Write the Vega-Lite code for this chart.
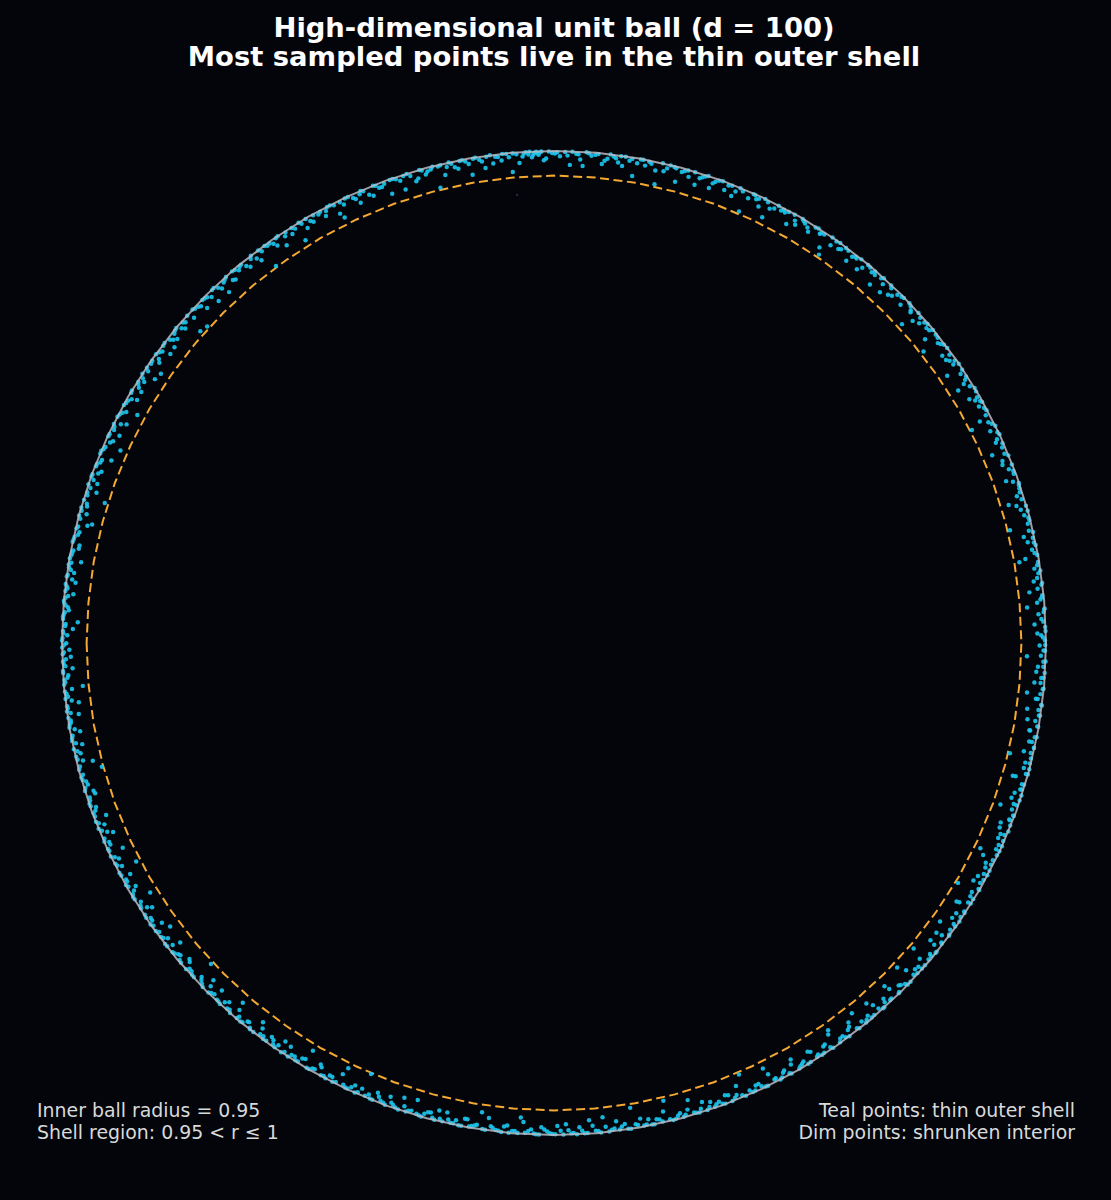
{
"$schema": "https://vega.github.io/schema/vega-lite/v6.json",
"width": 984,
"height": 984,
"autosize": "none",
"padding": {"left": 62, "top": 151, "right": 65, "bottom": 65},
"background": "#03050b",
"config": {"view": {"stroke": null}},
"title": {"text": ["High-dimensional unit ball (d = 100)", "Most sampled points live in the thin outer shell"], "font": "DejaVu Sans", "fontSize": 27.4, "fontWeight": "bold", "color": "#ffffff", "anchor": "middle", "lineHeight": 29, "offset": 76},
"projection": {"type": "azimuthalEquidistant", "rotate": [90, -90, 0]},
"layer": [
{
"data": {"values": {"type": "FeatureCollection", "features": [
{"type": "Feature", "properties": {"ring": "inner ball r = 0.95"}, "geometry": {"type": "LineString", "coordinates": [[-180,4.5],[-170,4.5],[-160,4.5],[-150,4.5],[-140,4.5],[-130,4.5],[-120,4.5],[-110,4.5],[-100,4.5],[-90,4.5],[-80,4.5],[-70,4.5],[-60,4.5],[-50,4.5],[-40,4.5],[-30,4.5],[-20,4.5],[-10,4.5],[0,4.5],[10,4.5],[20,4.5],[30,4.5],[40,4.5],[50,4.5],[60,4.5],[70,4.5],[80,4.5],[90,4.5],[100,4.5],[110,4.5],[120,4.5],[130,4.5],[140,4.5],[150,4.5],[160,4.5],[170,4.5],[180,4.5]]}}
]}, "format": {"type": "json", "property": "features"}},
"mark": {"type": "geoshape", "filled": false, "stroke": "#f5a832", "strokeWidth": 2, "strokeDash": [9, 4.5]}
},
{
"data": {"values": [
{"angle":0.3,"lat":0.18},{"angle":0.9,"lat":0.87},{"angle":1.4,"lat":0.06},{"angle":2.2,"lat":2.03},{"angle":2.5,"lat":0.41},{"angle":3.4,"lat":1.22},{"angle":3.9,"lat":0.14},{"angle":4.3,"lat":3.21},{"angle":5.1,"lat":0.66},{"angle":5.6,"lat":0.26},{"angle":6.4,"lat":0.99},{"angle":7.0,"lat":0.03},{"angle":7.3,"lat":1.53},{"angle":8.2,"lat":0.47},{"angle":8.8,"lat":1.08},{"angle":9.5,"lat":0.23},
{"angle":10.1,"lat":2.42},{"angle":10.6,"lat":0.57},{"angle":11.5,"lat":0.09},{"angle":12.0,"lat":1.4},{"angle":12.4,"lat":0.33},{"angle":13.3,"lat":0.74},{"angle":13.9,"lat":4.07},{"angle":14.5,"lat":0.17},{"angle":15.2,"lat":0.86},{"angle":15.6,"lat":0.05},{"angle":16.5,"lat":1.77},{"angle":17.1,"lat":0.51},{"angle":17.6,"lat":1.17},{"angle":18.4,"lat":0.29},{"angle":19.0,"lat":0.08},{"angle":19.7,"lat":2.16},
{"angle":20.2,"lat":0.39},{"angle":20.9,"lat":0.93},{"angle":21.3,"lat":0.12},{"angle":22.1,"lat":1.46},{"angle":22.8,"lat":0.62},{"angle":23.2,"lat":2.79},{"angle":24.0,"lat":0.21},{"angle":24.7,"lat":0.8},{"angle":25.1,"lat":0.02},{"angle":25.9,"lat":1.28},{"angle":26.6,"lat":0.44},{"angle":27.0,"lat":4.2},{"angle":27.8,"lat":0.71},{"angle":28.3,"lat":0.15},{"angle":29.1,"lat":1.04},{"angle":29.6,"lat":0.35},
{"angle":30.4,"lat":1.91},{"angle":30.8,"lat":0.11},{"angle":31.7,"lat":0.59},{"angle":32.3,"lat":1.32},{"angle":32.9,"lat":0.24},{"angle":33.5,"lat":0.81},{"angle":34.2,"lat":3.03},{"angle":34.6,"lat":0.06},{"angle":35.5,"lat":1.11},{"angle":36.1,"lat":0.48},{"angle":36.5,"lat":1.64},{"angle":37.4,"lat":0.2},{"angle":38.0,"lat":0.9},{"angle":38.5,"lat":0.32},{"angle":39.3,"lat":2.28},{"angle":39.8,"lat":0.65},
{"angle":40.5,"lat":0.14},{"angle":41.2,"lat":1.22},{"angle":41.6,"lat":0.42},{"angle":42.5,"lat":3.66},{"angle":43.0,"lat":0.77},{"angle":43.7,"lat":0.05},{"angle":44.3,"lat":1.43},{"angle":44.9,"lat":0.27},{"angle":45.4,"lat":0.54},{"angle":46.2,"lat":1.73},{"angle":46.7,"lat":0.11},{"angle":47.5,"lat":0.96},{"angle":48.1,"lat":0.38},{"angle":48.6,"lat":2.6},{"angle":49.4,"lat":0.68},{"angle":49.9,"lat":0.18},
{"angle":50.6,"lat":1.16},{"angle":51.3,"lat":0.08},{"angle":51.8,"lat":0.5},{"angle":52.6,"lat":1.97},{"angle":53.1,"lat":0.3},{"angle":53.9,"lat":0.87},{"angle":54.4,"lat":0.03},{"angle":55.2,"lat":1.37},{"angle":55.7,"lat":4.0},{"angle":56.5,"lat":0.41},{"angle":57.0,"lat":0.72},{"angle":57.8,"lat":0.17},{"angle":58.3,"lat":1.56},{"angle":59.1,"lat":0.56},{"angle":59.6,"lat":0.09},
{"angle":60.3,"lat":1.05},{"angle":61.0,"lat":2.37},{"angle":61.4,"lat":0.21},{"angle":62.3,"lat":0.63},{"angle":62.8,"lat":0.05},{"angle":63.6,"lat":1.29},{"angle":64.1,"lat":0.36},{"angle":64.9,"lat":1.83},{"angle":65.5,"lat":0.78},{"angle":66.0,"lat":0.12},{"angle":66.8,"lat":4.1},{"angle":67.3,"lat":0.45},{"angle":68.1,"lat":0.99},{"angle":68.7,"lat":0.23},{"angle":69.4,"lat":1.49},{"angle":69.9,"lat":0.06},
{"angle":70.7,"lat":0.6},{"angle":71.2,"lat":2.09},{"angle":72.0,"lat":0.29},{"angle":72.6,"lat":0.92},{"angle":73.3,"lat":0.11},{"angle":73.9,"lat":1.25},{"angle":74.5,"lat":0.39},{"angle":75.3,"lat":2.75},{"angle":75.8,"lat":0.18},{"angle":76.6,"lat":0.75},{"angle":77.2,"lat":0.02},{"angle":77.9,"lat":1.61},{"angle":78.5,"lat":0.53},{"angle":79.2,"lat":1.1},{"angle":79.8,"lat":0.15},
{"angle":80.5,"lat":3.39},{"angle":81.1,"lat":0.69},{"angle":81.6,"lat":0.08},{"angle":82.4,"lat":1.34},{"angle":83.0,"lat":0.33},{"angle":83.7,"lat":0.86},{"angle":84.3,"lat":1.95},{"angle":84.8,"lat":0.2},{"angle":85.6,"lat":0.59},{"angle":86.2,"lat":0.03},{"angle":86.9,"lat":1.41},{"angle":87.4,"lat":0.42},{"angle":88.1,"lat":2.49},{"angle":88.7,"lat":0.14},{"angle":89.3,"lat":0.95},{"angle":89.9,"lat":0.47},
{"angle":90.6,"lat":0.09},{"angle":91.2,"lat":1.68},{"angle":91.8,"lat":0.66},{"angle":92.3,"lat":0.26},{"angle":92.6,"lat":1.07},{"angle":93.0,"lat":0.53},{"angle":93.3,"lat":0.06},{"angle":93.7,"lat":0.83},{"angle":94.4,"lat":0.32},{"angle":95.0,"lat":3.53},{"angle":95.6,"lat":0.12},{"angle":96.2,"lat":1.2},{"angle":96.9,"lat":0.41},{"angle":97.5,"lat":0.02},{"angle":98.2,"lat":2.21},{"angle":98.8,"lat":0.57},{"angle":99.5,"lat":0.18},
{"angle":100.1,"lat":1.01},{"angle":100.8,"lat":0.08},{"angle":101.4,"lat":1.52},{"angle":102.1,"lat":0.36},{"angle":102.7,"lat":0.74},{"angle":103.4,"lat":0.15},{"angle":104.0,"lat":4.15},{"angle":104.6,"lat":0.5},{"angle":105.3,"lat":1.14},{"angle":105.9,"lat":0.05},{"angle":106.6,"lat":1.86},{"angle":107.1,"lat":0.63},{"angle":107.9,"lat":0.24},{"angle":108.4,"lat":0.9},{"angle":109.2,"lat":0.11},{"angle":109.8,"lat":2.64},
{"angle":110.3,"lat":0.44},{"angle":111.0,"lat":0.78},{"angle":111.6,"lat":0.03},{"angle":112.4,"lat":1.31},{"angle":112.9,"lat":0.29},{"angle":113.7,"lat":2.04},{"angle":114.3,"lat":0.68},{"angle":114.8,"lat":0.12},{"angle":115.6,"lat":1.04},{"angle":116.2,"lat":3.27},{"angle":116.7,"lat":0.38},{"angle":117.5,"lat":0.08},{"angle":118.1,"lat":1.44},{"angle":118.8,"lat":0.56},{"angle":119.4,"lat":0.21},
{"angle":120.0,"lat":0.87},{"angle":120.7,"lat":1.71},{"angle":121.3,"lat":0.05},{"angle":122.0,"lat":0.62},{"angle":122.6,"lat":1.19},{"angle":123.2,"lat":0.27},{"angle":123.9,"lat":2.33},{"angle":124.5,"lat":0.14},{"angle":125.1,"lat":0.75},{"angle":125.8,"lat":0.39},{"angle":126.4,"lat":4.3},{"angle":127.0,"lat":0.09},{"angle":127.7,"lat":1.08},{"angle":128.3,"lat":0.48},{"angle":128.9,"lat":1.58},{"angle":129.6,"lat":0.17},
{"angle":130.2,"lat":0.71},{"angle":130.9,"lat":0.06},{"angle":131.5,"lat":1.35},{"angle":132.2,"lat":0.32},{"angle":132.8,"lat":2.52},{"angle":133.4,"lat":0.57},{"angle":134.1,"lat":0.11},{"angle":134.7,"lat":0.95},{"angle":135.4,"lat":0.23},{"angle":136.0,"lat":1.79},{"angle":136.6,"lat":0.45},{"angle":137.3,"lat":0.03},{"angle":137.9,"lat":1.26},{"angle":138.6,"lat":3.75},{"angle":139.2,"lat":0.3},{"angle":139.8,"lat":0.81},
{"angle":140.5,"lat":0.15},{"angle":141.1,"lat":1.47},{"angle":141.7,"lat":0.51},{"angle":142.4,"lat":0.08},{"angle":143.0,"lat":2.13},{"angle":143.6,"lat":0.35},{"angle":144.3,"lat":0.99},{"angle":144.9,"lat":0.18},{"angle":145.6,"lat":2.85},{"angle":146.2,"lat":0.65},{"angle":146.8,"lat":0.02},{"angle":147.5,"lat":1.13},{"angle":148.1,"lat":0.42},{"angle":148.7,"lat":1.65},{"angle":149.4,"lat":0.12},
{"angle":150.0,"lat":0.78},{"angle":150.7,"lat":0.26},{"angle":151.3,"lat":3.11},{"angle":151.9,"lat":0.54},{"angle":152.6,"lat":0.06},{"angle":153.2,"lat":1.23},{"angle":153.8,"lat":0.38},{"angle":154.5,"lat":1.94},{"angle":155.1,"lat":0.14},{"angle":155.7,"lat":0.9},{"angle":156.4,"lat":0.47},{"angle":157.0,"lat":0.03},{"angle":157.6,"lat":2.43},{"angle":158.3,"lat":0.69},{"angle":158.9,"lat":0.21},{"angle":159.6,"lat":1.05},
{"angle":160.2,"lat":0.09},{"angle":160.8,"lat":1.55},{"angle":161.5,"lat":0.59},{"angle":162.1,"lat":0.29},{"angle":162.7,"lat":3.93},{"angle":163.4,"lat":0.83},{"angle":164.0,"lat":0.05},{"angle":164.6,"lat":1.32},{"angle":165.3,"lat":0.41},{"angle":165.9,"lat":2.0},{"angle":166.5,"lat":0.17},{"angle":167.2,"lat":0.72},{"angle":167.8,"lat":0.11},{"angle":168.4,"lat":1.4},{"angle":169.1,"lat":0.48},{"angle":169.7,"lat":0.24},
{"angle":170.3,"lat":2.25},{"angle":170.8,"lat":0.08},{"angle":171.4,"lat":0.62},{"angle":172.0,"lat":0.18},{"angle":172.5,"lat":1.1},{"angle":173.1,"lat":0.03},{"angle":173.6,"lat":0.44},{"angle":174.2,"lat":1.62},{"angle":174.7,"lat":0.27},{"angle":175.3,"lat":0.11},{"angle":175.8,"lat":0.84},{"angle":176.4,"lat":0.35},{"angle":176.9,"lat":0.06},{"angle":177.5,"lat":2.81},{"angle":178.0,"lat":0.53},{"angle":178.6,"lat":0.15},{"angle":179.1,"lat":0.96},{"angle":179.7,"lat":0.02},
{"angle":180.2,"lat":0.41},{"angle":180.8,"lat":1.34},{"angle":181.3,"lat":0.12},{"angle":181.9,"lat":0.66},{"angle":182.4,"lat":0.23},{"angle":183.0,"lat":1.82},{"angle":183.5,"lat":0.05},{"angle":184.1,"lat":0.78},{"angle":184.6,"lat":0.3},{"angle":185.2,"lat":3.45},{"angle":185.7,"lat":0.09},{"angle":186.3,"lat":0.56},{"angle":186.8,"lat":1.16},{"angle":187.4,"lat":0.2},{"angle":188.0,"lat":0.03},{"angle":188.5,"lat":2.1},{"angle":189.1,"lat":0.47},{"angle":189.6,"lat":0.14},
{"angle":190.2,"lat":0.92},{"angle":190.9,"lat":0.33},{"angle":191.5,"lat":0.06},{"angle":192.1,"lat":1.74},{"angle":192.8,"lat":0.6},{"angle":193.4,"lat":0.17},{"angle":194.0,"lat":1.2},{"angle":194.6,"lat":0.39},{"angle":195.3,"lat":4.25},{"angle":195.9,"lat":0.11},{"angle":196.5,"lat":0.75},{"angle":197.2,"lat":0.26},{"angle":197.8,"lat":1.53},{"angle":198.4,"lat":0.5},{"angle":199.1,"lat":0.08},{"angle":199.7,"lat":1.02},
{"angle":200.3,"lat":0.21},{"angle":201.0,"lat":2.24},{"angle":201.6,"lat":0.45},{"angle":202.2,"lat":0.03},{"angle":202.9,"lat":1.29},{"angle":203.5,"lat":0.32},{"angle":204.1,"lat":0.87},{"angle":204.8,"lat":0.14},{"angle":205.4,"lat":2.67},{"angle":206.0,"lat":0.63},{"angle":206.7,"lat":0.18},{"angle":207.3,"lat":1.07},{"angle":207.9,"lat":0.06},{"angle":208.6,"lat":1.7},{"angle":209.2,"lat":0.54},{"angle":209.8,"lat":0.29},
{"angle":210.5,"lat":0.83},{"angle":211.1,"lat":0.09},{"angle":211.7,"lat":3.18},{"angle":212.4,"lat":0.42},{"angle":213.0,"lat":1.25},{"angle":213.6,"lat":0.15},{"angle":214.3,"lat":0.71},{"angle":214.9,"lat":0.02},{"angle":215.5,"lat":1.89},{"angle":216.2,"lat":0.51},{"angle":216.8,"lat":0.24},{"angle":217.4,"lat":1.11},{"angle":218.1,"lat":0.08},{"angle":218.7,"lat":2.39},{"angle":219.3,"lat":0.36},{"angle":219.9,"lat":0.93},
{"angle":220.6,"lat":0.12},{"angle":221.2,"lat":1.44},{"angle":221.8,"lat":0.59},{"angle":222.5,"lat":0.2},{"angle":223.1,"lat":4.05},{"angle":223.7,"lat":0.77},{"angle":224.4,"lat":0.05},{"angle":225.0,"lat":1.19},{"angle":225.6,"lat":0.38},{"angle":226.3,"lat":2.06},{"angle":226.9,"lat":0.17},{"angle":227.5,"lat":0.86},{"angle":228.2,"lat":0.3},{"angle":228.8,"lat":0.03},{"angle":229.4,"lat":1.59},{"angle":229.9,"lat":0.6},
{"angle":230.6,"lat":0.23},{"angle":231.2,"lat":1.01},{"angle":231.8,"lat":0.08},{"angle":232.5,"lat":2.55},{"angle":233.1,"lat":0.48},{"angle":233.7,"lat":0.14},{"angle":234.4,"lat":1.35},{"angle":235.0,"lat":0.41},{"angle":235.6,"lat":0.8},{"angle":236.3,"lat":0.02},{"angle":236.9,"lat":1.85},{"angle":237.5,"lat":0.66},{"angle":238.2,"lat":0.21},{"angle":238.8,"lat":1.14},{"angle":239.4,"lat":3.36},
{"angle":240.1,"lat":0.11},{"angle":240.7,"lat":0.57},{"angle":241.3,"lat":1.5},{"angle":242.0,"lat":0.29},{"angle":242.6,"lat":0.9},{"angle":243.2,"lat":0.06},{"angle":243.9,"lat":2.18},{"angle":244.5,"lat":0.45},{"angle":245.1,"lat":0.17},{"angle":245.8,"lat":1.28},{"angle":246.4,"lat":0.33},{"angle":247.0,"lat":4.35},{"angle":247.7,"lat":0.72},{"angle":248.3,"lat":0.09},{"angle":248.9,"lat":1.05},{"angle":249.6,"lat":0.26},
{"angle":250.2,"lat":1.77},{"angle":250.8,"lat":0.53},{"angle":251.5,"lat":0.03},{"angle":252.1,"lat":0.96},{"angle":252.7,"lat":0.39},{"angle":253.4,"lat":2.76},{"angle":254.0,"lat":0.15},{"angle":254.6,"lat":0.68},{"angle":255.3,"lat":1.22},{"angle":255.9,"lat":0.08},{"angle":256.5,"lat":0.5},{"angle":257.2,"lat":1.95},{"angle":257.8,"lat":0.23},{"angle":258.4,"lat":0.87},{"angle":259.1,"lat":0.05},{"angle":259.7,"lat":1.46},
{"angle":260.3,"lat":0.36},{"angle":260.9,"lat":0.75},{"angle":261.6,"lat":0.12},{"angle":262.2,"lat":2.3},{"angle":262.8,"lat":0.56},{"angle":263.5,"lat":0.2},{"angle":264.1,"lat":1.08},{"angle":264.7,"lat":0.02},{"angle":265.4,"lat":0.44},{"angle":266.0,"lat":3.0},{"angle":266.6,"lat":0.27},{"angle":267.3,"lat":0.93},{"angle":267.9,"lat":0.09},{"angle":268.5,"lat":1.38},{"angle":269.2,"lat":0.62},{"angle":269.8,"lat":0.17},
{"angle":270.4,"lat":1.65},{"angle":271.1,"lat":0.06},{"angle":271.7,"lat":0.83},{"angle":272.3,"lat":0.3},{"angle":273.0,"lat":1.28},{"angle":273.6,"lat":0.14},{"angle":274.2,"lat":2.48},{"angle":274.9,"lat":0.47},{"angle":275.5,"lat":0.03},{"angle":276.1,"lat":1.01},{"angle":276.8,"lat":0.35},{"angle":277.4,"lat":1.8},{"angle":278.0,"lat":0.69},{"angle":278.7,"lat":0.11},{"angle":279.3,"lat":3.83},{"angle":279.9,"lat":0.51},
{"angle":280.6,"lat":0.21},{"angle":281.2,"lat":1.17},{"angle":281.8,"lat":0.05},{"angle":282.5,"lat":0.74},{"angle":283.1,"lat":2.01},{"angle":283.7,"lat":0.32},{"angle":284.4,"lat":0.14},{"angle":285.0,"lat":0.95},{"angle":285.6,"lat":0.42},{"angle":286.3,"lat":2.88},{"angle":286.9,"lat":0.18},{"angle":287.5,"lat":0.65},{"angle":288.2,"lat":0.08},{"angle":288.8,"lat":1.32},{"angle":289.4,"lat":0.54},
{"angle":290.1,"lat":0.26},{"angle":290.7,"lat":1.56},{"angle":291.3,"lat":0.09},{"angle":292.0,"lat":0.84},{"angle":292.6,"lat":0.38},{"angle":293.2,"lat":4.12},{"angle":293.9,"lat":0.15},{"angle":294.5,"lat":1.05},{"angle":295.1,"lat":0.48},{"angle":295.8,"lat":0.02},{"angle":296.4,"lat":1.92},{"angle":297.0,"lat":0.66},{"angle":297.7,"lat":0.23},{"angle":298.3,"lat":1.2},{"angle":298.9,"lat":0.06},{"angle":299.6,"lat":2.36},
{"angle":300.2,"lat":0.41},{"angle":300.8,"lat":0.9},{"angle":301.5,"lat":0.12},{"angle":302.1,"lat":1.71},{"angle":302.7,"lat":0.57},{"angle":303.4,"lat":0.2},{"angle":304.0,"lat":1.43},{"angle":304.6,"lat":0.03},{"angle":305.3,"lat":3.23},{"angle":305.9,"lat":0.71},{"angle":306.5,"lat":0.29},{"angle":307.2,"lat":1.1},{"angle":307.8,"lat":2.12},{"angle":308.4,"lat":0.09},{"angle":309.1,"lat":0.8},{"angle":309.7,"lat":0.45},
{"angle":310.3,"lat":0.15},{"angle":310.9,"lat":2.73},{"angle":311.6,"lat":0.6},{"angle":312.2,"lat":0.06},{"angle":312.8,"lat":1.31},{"angle":313.5,"lat":0.36},{"angle":314.1,"lat":1.88},{"angle":314.7,"lat":0.21},{"angle":315.4,"lat":0.89},{"angle":316.0,"lat":0.05},{"angle":316.6,"lat":3.6},{"angle":317.3,"lat":0.51},{"angle":317.9,"lat":0.99},{"angle":318.5,"lat":0.14},{"angle":319.2,"lat":1.62},{"angle":319.8,"lat":0.3},
{"angle":320.4,"lat":0.72},{"angle":321.1,"lat":0.08},{"angle":321.7,"lat":2.25},{"angle":322.3,"lat":0.44},{"angle":323.0,"lat":1.16},{"angle":323.6,"lat":0.18},{"angle":324.2,"lat":2.93},{"angle":324.9,"lat":0.62},{"angle":325.5,"lat":0.02},{"angle":326.1,"lat":1.35},{"angle":326.8,"lat":0.33},{"angle":327.4,"lat":1.98},{"angle":328.0,"lat":0.11},{"angle":328.7,"lat":0.86},{"angle":329.3,"lat":4.05},{"angle":329.9,"lat":0.24},
{"angle":330.6,"lat":0.53},{"angle":331.2,"lat":1.5},{"angle":331.8,"lat":0.06},{"angle":332.5,"lat":1.04},{"angle":333.1,"lat":0.39},{"angle":333.7,"lat":2.43},{"angle":334.4,"lat":0.17},{"angle":335.0,"lat":0.75},{"angle":335.6,"lat":0.03},{"angle":336.3,"lat":1.26},{"angle":336.9,"lat":0.45},{"angle":337.5,"lat":1.76},{"angle":338.2,"lat":0.12},{"angle":338.8,"lat":0.68},{"angle":339.4,"lat":0.27},
{"angle":340.1,"lat":3.15},{"angle":340.7,"lat":0.9},{"angle":341.3,"lat":0.09},{"angle":342.0,"lat":1.4},{"angle":342.6,"lat":0.35},{"angle":343.2,"lat":0.59},{"angle":343.9,"lat":2.1},{"angle":344.5,"lat":0.05},{"angle":345.1,"lat":1.07},{"angle":345.8,"lat":0.23},{"angle":346.4,"lat":4.2},{"angle":347.0,"lat":0.5},{"angle":347.7,"lat":0.15},{"angle":348.3,"lat":1.23},{"angle":348.9,"lat":0.38},{"angle":349.6,"lat":1.58},
{"angle":350.2,"lat":0.11},{"angle":350.8,"lat":0.81},{"angle":351.5,"lat":0.3},{"angle":352.1,"lat":2.61},{"angle":352.7,"lat":0.02},{"angle":353.4,"lat":0.93},{"angle":354.0,"lat":0.54},{"angle":354.6,"lat":0.2},{"angle":355.3,"lat":1.83},{"angle":355.9,"lat":0.63},{"angle":356.5,"lat":0.08},{"angle":357.2,"lat":1.37},{"angle":357.8,"lat":0.42},{"angle":358.4,"lat":3.45},{"angle":359.1,"lat":0.18},{"angle":359.7,"lat":1.16},
{"angle":0.65,"lat":0.54},{"angle":1.12,"lat":1.56},{"angle":1.88,"lat":0.11},{"angle":2.83,"lat":0.74},{"angle":3.61,"lat":0.27},{"angle":4.02,"lat":0.03},{"angle":4.77,"lat":1.32},{"angle":5.35,"lat":0.38},{"angle":6.08,"lat":2.55},{"angle":6.81,"lat":0.2},{"angle":7.66,"lat":0.83},{"angle":8.47,"lat":0.06},{"angle":9.13,"lat":0.47},{"angle":9.84,"lat":3.6},
{"angle":10.32,"lat":0.14},{"angle":11.05,"lat":0.9},{"angle":11.84,"lat":0.32},{"angle":12.71,"lat":1.91},{"angle":13.05,"lat":0.05},{"angle":14.12,"lat":0.63},{"angle":14.83,"lat":0.24},{"angle":15.94,"lat":1.2},{"angle":16.21,"lat":0.09},{"angle":16.88,"lat":3.08},{"angle":17.93,"lat":0.44},{"angle":18.77,"lat":0.17},{"angle":19.36,"lat":1.01},
{"angle":20.55,"lat":0.29},{"angle":21.66,"lat":1.73},{"angle":22.44,"lat":0.08},{"angle":23.57,"lat":0.56},{"angle":24.38,"lat":1.26},{"angle":25.43,"lat":0.18},{"angle":26.21,"lat":0.03},{"angle":26.95,"lat":0.87},{"angle":27.49,"lat":2.19},{"angle":28.66,"lat":0.33},{"angle":29.38,"lat":0.12},{"angle":29.92,"lat":1.1},
{"angle":30.14,"lat":0.5},{"angle":31.22,"lat":0.02},{"angle":31.99,"lat":2.82},{"angle":32.62,"lat":0.71},{"angle":33.81,"lat":0.15},{"angle":34.89,"lat":0.95},{"angle":35.17,"lat":0.36},{"angle":35.83,"lat":1.55},{"angle":36.88,"lat":0.08},{"angle":37.71,"lat":0.6},{"angle":38.27,"lat":3.9},{"angle":38.93,"lat":0.23},{"angle":39.57,"lat":0.11},
{"angle":40.21,"lat":0.78},{"angle":40.88,"lat":0.41},{"angle":41.93,"lat":1.82},{"angle":42.16,"lat":0.05},{"angle":42.84,"lat":1.04},{"angle":43.36,"lat":0.26},{"angle":44.6,"lat":0.12},{"angle":45.77,"lat":1.37},{"angle":46.44,"lat":0.45},{"angle":47.11,"lat":2.4},{"angle":47.88,"lat":0.03},{"angle":48.92,"lat":0.68},{"angle":49.17,"lat":0.18},
{"angle":50.27,"lat":0.09},{"angle":50.98,"lat":2.0},{"angle":52.03,"lat":0.35},{"angle":52.33,"lat":0.75},{"angle":53.52,"lat":0.14},{"angle":54.18,"lat":1.14},{"angle":54.87,"lat":0.21},{"angle":55.51,"lat":0.02},{"angle":56.14,"lat":2.85},{"angle":56.91,"lat":0.53},{"angle":57.44,"lat":0.06},{"angle":58.62,"lat":0.96},{"angle":59.38,"lat":0.3},
{"angle":60.04,"lat":1.67},{"angle":60.66,"lat":0.12},{"angle":61.79,"lat":0.65},{"angle":62.05,"lat":0.26},{"angle":63.12,"lat":0.89},{"angle":63.94,"lat":3.3},{"angle":64.55,"lat":0.05},{"angle":65.21,"lat":0.51},{"angle":65.77,"lat":0.17},{"angle":66.42,"lat":1.23},{"angle":67.69,"lat":0.09},{"angle":68.38,"lat":2.04},{"angle":69.12,"lat":0.41},
{"angle":70.33,"lat":0.2},{"angle":70.95,"lat":1.05},{"angle":71.68,"lat":0.03},{"angle":72.31,"lat":0.59},{"angle":72.95,"lat":2.33},{"angle":74.13,"lat":0.15},{"angle":74.82,"lat":0.72},{"angle":75.55,"lat":0.32},{"angle":76.27,"lat":0.06},{"angle":76.93,"lat":1.4},{"angle":77.64,"lat":4.1},{"angle":78.8,"lat":0.24},{"angle":79.51,"lat":0.08},
{"angle":80.17,"lat":0.92},{"angle":80.81,"lat":0.29},{"angle":81.88,"lat":1.86},{"angle":82.13,"lat":0.11},{"angle":82.71,"lat":0.6},{"angle":83.39,"lat":0.02},{"angle":84.02,"lat":1.29},{"angle":85.15,"lat":0.39},{"angle":85.92,"lat":0.17},{"angle":86.57,"lat":2.58},{"angle":87.13,"lat":0.48},{"angle":87.86,"lat":0.08},{"angle":88.41,"lat":0.81},{"angle":89.64,"lat":0.21},
{"angle":90.22,"lat":0.35},{"angle":90.93,"lat":1.35},{"angle":91.47,"lat":0.06},{"angle":91.63,"lat":0.18},{"angle":91.95,"lat":0.42},{"angle":92.08,"lat":0.09},{"angle":92.44,"lat":0.62},{"angle":92.87,"lat":0.03},{"angle":93.52,"lat":0.29},{"angle":94.11,"lat":1.95},{"angle":94.83,"lat":0.14},{"angle":95.31,"lat":0.78},{"angle":96.05,"lat":0.05},{"angle":96.58,"lat":0.5},{"angle":97.22,"lat":1.59},{"angle":97.93,"lat":0.21},{"angle":98.51,"lat":0.93},{"angle":99.23,"lat":0.08},{"angle":99.86,"lat":3.08},
{"angle":100.44,"lat":0.45},{"angle":101.09,"lat":0.17},{"angle":101.77,"lat":1.11},{"angle":102.38,"lat":0.03},{"angle":103.07,"lat":2.1},{"angle":103.71,"lat":0.3},{"angle":104.33,"lat":0.09},{"angle":105.02,"lat":0.71},{"angle":105.64,"lat":0.23},{"angle":106.27,"lat":1.46},{"angle":107.46,"lat":0.06},{"angle":108.12,"lat":2.73},{"angle":108.83,"lat":0.39},{"angle":109.54,"lat":0.12},
{"angle":110.67,"lat":0.86},{"angle":111.31,"lat":0.2},{"angle":111.96,"lat":1.77},{"angle":113.18,"lat":0.03},{"angle":113.42,"lat":0.53},{"angle":114.05,"lat":1.05},{"angle":115.21,"lat":0.15},{"angle":115.93,"lat":0.36},{"angle":116.48,"lat":2.25},{"angle":117.14,"lat":0.08},{"angle":117.83,"lat":0.66},{"angle":118.47,"lat":0.24},{"angle":119.72,"lat":1.29},
{"angle":120.36,"lat":0.11},{"angle":121.05,"lat":0.47},{"angle":121.68,"lat":3.45},{"angle":122.31,"lat":0.18},{"angle":123.47,"lat":0.83},{"angle":124.21,"lat":0.05},{"angle":124.83,"lat":1.43},{"angle":125.46,"lat":0.29},{"angle":126.11,"lat":0.12},{"angle":126.72,"lat":0.6},{"angle":127.39,"lat":1.88},{"angle":128.05,"lat":0.02},{"angle":129.22,"lat":0.99},{"angle":129.88,"lat":0.3},
{"angle":130.55,"lat":0.21},{"angle":131.21,"lat":1.61},{"angle":131.86,"lat":0.08},{"angle":132.51,"lat":0.57},{"angle":133.13,"lat":1.16},{"angle":133.79,"lat":0.03},{"angle":134.43,"lat":2.37},{"angle":135.08,"lat":0.41},{"angle":135.72,"lat":0.15},{"angle":136.34,"lat":0.75},{"angle":137.04,"lat":0.27},{"angle":137.61,"lat":4.1},{"angle":138.27,"lat":0.09},{"angle":138.95,"lat":0.63},{"angle":139.53,"lat":1.35},
{"angle":140.18,"lat":0.05},{"angle":140.84,"lat":0.44},{"angle":141.46,"lat":0.98},{"angle":142.07,"lat":1.98},{"angle":142.73,"lat":0.18},{"angle":143.34,"lat":0.71},{"angle":144.02,"lat":0.06},{"angle":144.63,"lat":1.47},{"angle":145.27,"lat":0.32},{"angle":145.94,"lat":0.12},{"angle":146.53,"lat":2.48},{"angle":147.21,"lat":0.54},{"angle":147.83,"lat":0.2},{"angle":148.42,"lat":0.87},{"angle":149.11,"lat":0.03},{"angle":149.77,"lat":1.73},
{"angle":150.35,"lat":0.38},{"angle":151.04,"lat":0.09},{"angle":151.62,"lat":1.07},{"angle":152.25,"lat":0.24},{"angle":152.91,"lat":2.18},{"angle":153.55,"lat":0.08},{"angle":154.17,"lat":0.59},{"angle":154.81,"lat":0.17},{"angle":155.42,"lat":1.31},{"angle":156.06,"lat":3.23},{"angle":156.72,"lat":0.3},{"angle":157.33,"lat":0.05},{"angle":157.96,"lat":0.8},{"angle":158.61,"lat":0.21},{"angle":159.28,"lat":1.5},{"angle":159.91,"lat":0.11},
{"angle":160.51,"lat":0.66},{"angle":161.17,"lat":0.03},{"angle":161.82,"lat":1.92},{"angle":162.44,"lat":0.47},{"angle":163.06,"lat":0.14},{"angle":163.71,"lat":1.02},{"angle":164.35,"lat":0.26},{"angle":164.97,"lat":0.06},{"angle":165.62,"lat":2.78},{"angle":166.24,"lat":0.39},{"angle":166.87,"lat":0.87},{"angle":167.51,"lat":0.18},{"angle":168.13,"lat":0.02},{"angle":168.77,"lat":1.38},{"angle":169.42,"lat":0.33},
{"angle":170.06,"lat":0.09},{"angle":170.55,"lat":0.5},{"angle":171.12,"lat":0.21},{"angle":171.71,"lat":1.29},{"angle":172.24,"lat":0.05},{"angle":172.83,"lat":1.79},{"angle":173.37,"lat":0.3},{"angle":173.92,"lat":0.12},{"angle":174.48,"lat":0.72},{"angle":175.06,"lat":0.02},{"angle":175.57,"lat":0.41},{"angle":176.13,"lat":1.05},{"angle":176.66,"lat":0.17},{"angle":177.21,"lat":0.08},{"angle":177.77,"lat":0.6},{"angle":178.33,"lat":1.95},{"angle":178.88,"lat":0.24},{"angle":179.43,"lat":0.09},
{"angle":180.04,"lat":0.78},{"angle":180.52,"lat":0.05},{"angle":181.07,"lat":0.32},{"angle":181.64,"lat":1.58},{"angle":182.16,"lat":0.14},{"angle":182.71,"lat":0.53},{"angle":183.26,"lat":0.03},{"angle":183.79,"lat":0.96},{"angle":184.33,"lat":0.2},{"angle":184.88,"lat":0.09},{"angle":185.44,"lat":1.43},{"angle":185.98,"lat":0.36},{"angle":186.55,"lat":0.06},{"angle":187.11,"lat":2.4},{"angle":187.66,"lat":0.26},{"angle":188.23,"lat":0.68},{"angle":188.79,"lat":0.12},{"angle":189.37,"lat":0.42},{"angle":189.91,"lat":0.02},
{"angle":190.55,"lat":1.83},{"angle":191.18,"lat":0.15},{"angle":191.84,"lat":0.65},{"angle":192.47,"lat":0.05},{"angle":193.11,"lat":1.1},{"angle":193.77,"lat":0.29},{"angle":194.32,"lat":2.93},{"angle":194.95,"lat":0.11},{"angle":195.62,"lat":0.54},{"angle":196.21,"lat":0.21},{"angle":196.88,"lat":0.9},{"angle":197.51,"lat":0.03},{"angle":198.13,"lat":1.68},{"angle":198.76,"lat":0.38},{"angle":199.42,"lat":0.14},
{"angle":200.06,"lat":0.69},{"angle":200.71,"lat":0.24},{"angle":201.33,"lat":0.06},{"angle":201.97,"lat":1.32},{"angle":202.56,"lat":0.45},{"angle":203.21,"lat":2.25},{"angle":203.84,"lat":0.09},{"angle":204.44,"lat":0.86},{"angle":205.07,"lat":0.2},{"angle":205.73,"lat":0.02},{"angle":206.35,"lat":1.19},{"angle":207.02,"lat":0.36},{"angle":207.61,"lat":3.75},{"angle":208.26,"lat":0.15},{"angle":208.92,"lat":0.57},{"angle":209.51,"lat":0.08},
{"angle":210.16,"lat":1.49},{"angle":210.81,"lat":0.3},{"angle":211.43,"lat":0.11},{"angle":212.05,"lat":0.83},{"angle":212.72,"lat":0.21},{"angle":213.33,"lat":2.01},{"angle":213.97,"lat":0.05},{"angle":214.62,"lat":0.68},{"angle":215.21,"lat":0.33},{"angle":215.88,"lat":0.12},{"angle":216.46,"lat":2.7},{"angle":217.08,"lat":0.48},{"angle":217.75,"lat":0.03},{"angle":218.38,"lat":1.02},{"angle":219.04,"lat":0.18},{"angle":219.65,"lat":0.75},
{"angle":220.27,"lat":0.27},{"angle":220.93,"lat":1.74},{"angle":221.55,"lat":0.06},{"angle":222.17,"lat":0.54},{"angle":222.84,"lat":0.14},{"angle":223.46,"lat":1.2},{"angle":224.06,"lat":0.38},{"angle":224.71,"lat":2.33},{"angle":225.33,"lat":0.09},{"angle":225.97,"lat":0.63},{"angle":226.61,"lat":0.23},{"angle":227.22,"lat":0.02},{"angle":227.88,"lat":1.43},{"angle":228.51,"lat":0.45},{"angle":229.13,"lat":3.0},{"angle":229.77,"lat":0.17},
{"angle":230.36,"lat":0.08},{"angle":231.01,"lat":0.92},{"angle":231.67,"lat":0.3},{"angle":232.29,"lat":0.05},{"angle":232.91,"lat":1.61},{"angle":233.54,"lat":0.56},{"angle":234.12,"lat":0.2},{"angle":234.77,"lat":1.05},{"angle":235.36,"lat":0.12},{"angle":236.02,"lat":2.1},{"angle":236.63,"lat":0.39},{"angle":237.24,"lat":0.03},{"angle":237.91,"lat":0.74},{"angle":238.53,"lat":0.26},{"angle":239.16,"lat":1.35},{"angle":239.78,"lat":0.09},
{"angle":240.42,"lat":0.5},{"angle":241.04,"lat":1.88},{"angle":241.66,"lat":0.15},{"angle":242.31,"lat":0.06},{"angle":242.95,"lat":0.87},{"angle":243.57,"lat":0.32},{"angle":244.18,"lat":3.6},{"angle":244.83,"lat":0.18},{"angle":245.47,"lat":0.68},{"angle":246.08,"lat":0.05},{"angle":246.71,"lat":1.25},{"angle":247.34,"lat":0.24},{"angle":247.98,"lat":0.11},{"angle":248.62,"lat":1.65},{"angle":249.24,"lat":0.44},{"angle":249.88,"lat":0.03},
{"angle":250.51,"lat":0.81},{"angle":251.13,"lat":0.2},{"angle":251.79,"lat":2.43},{"angle":252.43,"lat":0.09},{"angle":253.04,"lat":0.57},{"angle":253.71,"lat":0.29},{"angle":254.32,"lat":0.02},{"angle":254.97,"lat":1.14},{"angle":255.61,"lat":0.36},{"angle":256.22,"lat":1.95},{"angle":256.86,"lat":0.14},{"angle":257.48,"lat":0.72},{"angle":258.13,"lat":0.23},{"angle":258.77,"lat":0.06},{"angle":259.41,"lat":1.47},
{"angle":260.02,"lat":0.18},{"angle":260.64,"lat":0.53},{"angle":261.28,"lat":3.15},{"angle":261.93,"lat":0.08},{"angle":262.55,"lat":0.86},{"angle":263.19,"lat":0.27},{"angle":263.84,"lat":0.03},{"angle":264.46,"lat":1.32},{"angle":265.09,"lat":0.41},{"angle":265.74,"lat":0.11},{"angle":266.35,"lat":2.18},{"angle":266.98,"lat":0.6},{"angle":267.62,"lat":0.21},{"angle":268.25,"lat":0.05},{"angle":268.87,"lat":0.99},{"angle":269.51,"lat":0.33},
{"angle":270.15,"lat":0.12},{"angle":270.78,"lat":0.75},{"angle":271.42,"lat":1.92},{"angle":272.04,"lat":0.24},{"angle":272.68,"lat":0.02},{"angle":273.31,"lat":0.63},{"angle":273.94,"lat":0.17},{"angle":274.57,"lat":1.4},{"angle":275.21,"lat":0.38},{"angle":275.84,"lat":2.78},{"angle":276.47,"lat":0.08},{"angle":277.11,"lat":0.5},{"angle":277.73,"lat":0.2},{"angle":278.37,"lat":1.05},{"angle":279.02,"lat":0.03},{"angle":279.64,"lat":0.71},
{"angle":280.27,"lat":1.58},{"angle":280.91,"lat":0.3},{"angle":281.53,"lat":0.11},{"angle":282.16,"lat":0.9},{"angle":282.81,"lat":0.23},{"angle":283.43,"lat":3.9},{"angle":284.07,"lat":0.05},{"angle":284.71,"lat":0.59},{"angle":285.33,"lat":0.15},{"angle":285.96,"lat":1.22},{"angle":286.61,"lat":0.36},{"angle":287.23,"lat":0.06},{"angle":287.87,"lat":1.8},{"angle":288.52,"lat":0.47},{"angle":289.14,"lat":0.18},{"angle":289.78,"lat":0.84},
{"angle":290.42,"lat":0.09},{"angle":291.06,"lat":1.35},{"angle":291.69,"lat":0.41},{"angle":292.33,"lat":2.4},{"angle":292.97,"lat":0.03},{"angle":293.61,"lat":0.66},{"angle":294.24,"lat":0.21},{"angle":294.88,"lat":1.1},{"angle":295.52,"lat":0.12},{"angle":296.15,"lat":3.3},{"angle":296.79,"lat":0.53},{"angle":297.43,"lat":0.06},{"angle":298.06,"lat":0.93},{"angle":298.7,"lat":0.29},{"angle":299.33,"lat":1.55},{"angle":299.97,"lat":0.15},
{"angle":300.51,"lat":0.62},{"angle":301.16,"lat":0.05},{"angle":301.82,"lat":2.03},{"angle":302.44,"lat":0.3},{"angle":303.08,"lat":0.09},{"angle":303.72,"lat":1.28},{"angle":304.36,"lat":0.44},{"angle":305.0,"lat":2.55},{"angle":305.63,"lat":0.17},{"angle":306.27,"lat":0.78},{"angle":306.91,"lat":0.02},{"angle":307.55,"lat":1.44},{"angle":308.18,"lat":0.35},{"angle":308.82,"lat":3.08},{"angle":309.45,"lat":0.12},
{"angle":310.09,"lat":0.9},{"angle":310.73,"lat":0.23},{"angle":311.37,"lat":1.73},{"angle":312.01,"lat":0.06},{"angle":312.64,"lat":0.69},{"angle":313.28,"lat":0.3},{"angle":313.92,"lat":2.85},{"angle":314.56,"lat":0.11},{"angle":315.19,"lat":1.13},{"angle":315.83,"lat":0.48},{"angle":316.46,"lat":0.03},{"angle":317.1,"lat":2.07},{"angle":317.74,"lat":0.2},{"angle":318.38,"lat":0.83},{"angle":319.01,"lat":0.14},{"angle":319.65,"lat":3.68},
{"angle":320.29,"lat":0.39},{"angle":320.92,"lat":0.08},{"angle":321.56,"lat":1.2},{"angle":322.2,"lat":0.26},{"angle":322.84,"lat":2.22},{"angle":323.47,"lat":0.05},{"angle":324.11,"lat":0.56},{"angle":324.75,"lat":0.18},{"angle":325.38,"lat":1.5},{"angle":326.02,"lat":0.33},{"angle":326.66,"lat":0.11},{"angle":327.29,"lat":2.48},{"angle":327.93,"lat":0.6},{"angle":328.57,"lat":0.15},{"angle":329.2,"lat":1.01},{"angle":329.84,"lat":0.03},
{"angle":330.48,"lat":1.83},{"angle":331.11,"lat":0.27},{"angle":331.75,"lat":0.75},{"angle":332.39,"lat":0.09},{"angle":333.02,"lat":1.38},{"angle":333.66,"lat":0.42},{"angle":334.3,"lat":3.45},{"angle":334.93,"lat":0.06},{"angle":335.57,"lat":0.66},{"angle":336.21,"lat":0.21},{"angle":336.84,"lat":1.17},{"angle":337.48,"lat":0.02},{"angle":338.12,"lat":1.95},{"angle":338.75,"lat":0.5},{"angle":339.39,"lat":0.14},
{"angle":340.03,"lat":0.87},{"angle":340.66,"lat":0.32},{"angle":341.3,"lat":1.65},{"angle":341.94,"lat":0.08},{"angle":342.57,"lat":0.6},{"angle":343.21,"lat":0.2},{"angle":343.85,"lat":2.63},{"angle":344.48,"lat":0.41},{"angle":345.12,"lat":0.05},{"angle":345.76,"lat":1.05},{"angle":346.39,"lat":0.24},{"angle":347.03,"lat":1.8},{"angle":347.67,"lat":0.12},{"angle":348.3,"lat":0.72},{"angle":348.94,"lat":0.03},{"angle":349.58,"lat":1.43},
{"angle":350.21,"lat":0.29},{"angle":350.85,"lat":2.28},{"angle":351.49,"lat":0.09},{"angle":352.12,"lat":0.54},{"angle":352.76,"lat":0.18},{"angle":353.4,"lat":1.26},{"angle":354.03,"lat":3.0},{"angle":354.67,"lat":0.06},{"angle":355.31,"lat":0.69},{"angle":355.94,"lat":0.23},{"angle":356.58,"lat":1.62},{"angle":357.22,"lat":0.38},{"angle":357.85,"lat":0.02},{"angle":358.49,"lat":0.9},{"angle":359.12,"lat":0.45},{"angle":359.76,"lat":0.14}
]},
"mark": {"type": "circle", "size": 20, "color": "#1cc8f0", "opacity": 0.9},
"encoding": {"longitude": {"field": "angle", "type": "quantitative"}, "latitude": {"field": "lat", "type": "quantitative"}}
},
{
"data": {"values": [{"angle": 94.7, "lat": 7.76}]},
"mark": {"type": "circle", "size": 5, "color": "#39404c", "opacity": 0.8},
"encoding": {"longitude": {"field": "angle", "type": "quantitative"}, "latitude": {"field": "lat", "type": "quantitative"}}
},
{
"data": {"values": {"type": "FeatureCollection", "features": [
{"type": "Feature", "properties": {"ring": "unit sphere r = 1"}, "geometry": {"type": "LineString", "coordinates": [[-180,0],[-170,0],[-160,0],[-150,0],[-140,0],[-130,0],[-120,0],[-110,0],[-100,0],[-90,0],[-80,0],[-70,0],[-60,0],[-50,0],[-40,0],[-30,0],[-20,0],[-10,0],[0,0],[10,0],[20,0],[30,0],[40,0],[50,0],[60,0],[70,0],[80,0],[90,0],[100,0],[110,0],[120,0],[130,0],[140,0],[150,0],[160,0],[170,0],[180,0]]}}
]}, "format": {"type": "json", "property": "features"}},
"mark": {"type": "geoshape", "filled": false, "stroke": "#b9bac2", "strokeWidth": 2, "strokeOpacity": 0.85}
},
{
"data": {"values": [{"note": "Inner ball radius = 0.95"}]},
"mark": {"type": "text", "align": "left", "baseline": "alphabetic", "font": "DejaVu Sans", "fontSize": 18.9, "color": "#d9d9d9", "lineHeight": 21.5},
"encoding": {"text": {"value": ["Inner ball radius = 0.95", "Shell region: 0.95 < r ≤ 1"]}, "x": {"value": -25}, "y": {"value": 966}}
},
{
"data": {"values": [{"note": "Teal points: thin outer shell"}]},
"mark": {"type": "text", "align": "right", "baseline": "alphabetic", "font": "DejaVu Sans", "fontSize": 18.9, "color": "#d9d9d9", "lineHeight": 21.5},
"encoding": {"text": {"value": ["Teal points: thin outer shell", "Dim points: shrunken interior"]}, "x": {"value": 1013}, "y": {"value": 966}}
}
]
}
